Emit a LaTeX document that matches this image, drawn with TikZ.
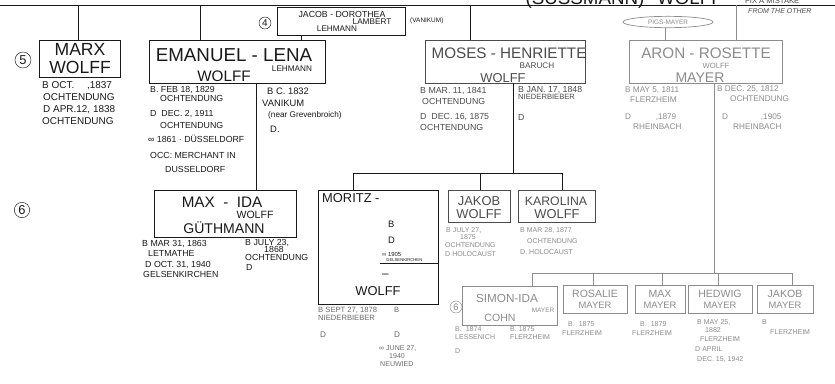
\documentclass[tikz,border=0pt]{standalone}
\usepackage{fontspec}
\setmainfont{Liberation Sans}
\usetikzlibrary{fit,shapes.geometric}
\definecolor{inkA}{gray}{0.1}
\definecolor{inkB}{gray}{0.3}
\definecolor{inkD}{gray}{0.42}
\definecolor{inkC}{gray}{0.55}
\newcounter{tn}
\newcommand\tx[4]{\stepcounter{tn}\node[#1] (t\arabic{tn}) at (#2,#3) {#4};}
\begin{document}
\begin{tikzpicture}[x=0.03cm,y=-0.03cm,
  box/.style={draw=#1, line width=0.7pt, inner sep=0pt},
  box/.default=inkA,
  lnk/.style={line width=0.6pt, draw=#1},
  lnk/.default=inkA,
  fs/.style={font=\fontsize{#1}{#1}\selectfont},
  dt/.style={fs=7.5, inner sep=0pt, anchor=base west, text=#1},
  dt/.default=inkA,
  nm/.style={inner sep=0pt, anchor=base, text=#1},
  nm/.default=inkA,
  num/.style={draw=inkA, circle, inner sep=0pt, minimum size=#1, text=inkA},
]
\useasboundingbox[fill=white] (0,0) rectangle (835,383);

% ---------- header line ----------
\coordinate (tl) at (0,5);
\coordinate (tr) at (835,5);
\draw[lnk] (tl) -- (tr);
\tx{nm,fs=16}{585}{4}{(SUSSMANN)}
\tx{nm,fs=16}{690}{4}{WOLFF}
\tx{dt=inkB,fs=6.5}{745}{3}{FIX A MISTAKE}
\tx{dt=inkB,fs=6,font=\itshape\fontsize{6}{6}\selectfont}{748}{13}{FROM THE OTHER}

% ---------- generation 4/5 boxes ----------
\node[box, fit={(39,40) (120,77)}] (marx) {};
\node[box, fit={(149,40) (325,83)}] (emanuel) {};
\node[box, fit={(277,7) (405,35)}] (jacob) {};
\node[box=inkB, fit={(425,40) (585,83)}] (moses) {};
\node[box=inkC, fit={(629,40) (782,83)}] (aron) {};
\node[draw=inkC, line width=0.6pt, ellipse, minimum width=2.7cm, minimum height=0.34cm, inner sep=0pt, fs=5.5, text=inkC] (pigs) at (668,22) {PIGS-MAYER};

\node[num=0.48cm, fs=11] (n5) at (23,60) {5};
\node[num=0.36cm, fs=8.5] (n4) at (265,23) {4};

% connectors from header
\coordinate (c1) at (78,5);
\coordinate (c2) at (200,5);
\coordinate (c3) at (470,5);
\coordinate (c4) at (736,5);
\draw[lnk] (c1) -- (c1 |- marx.north);
\draw[lnk] (c2) -- (c2 |- emanuel.north);
\draw[lnk] (c3) -- (c3 |- moses.north);
\draw[lnk=inkC] (c4) -- (c4 |- aron.north);
\coordinate (jl) at (301,0);
\draw[lnk] (jl |- jacob.south) -- (jl |- emanuel.north);
\coordinate (pl) at (665,0);
\draw[lnk=inkC] (pl |- pigs.south) -- (pl |- aron.north);

% MARX
\tx{nm,fs=15}{80}{55}{MARX}
\tx{nm,fs=15}{80}{73}{WOLFF}
\tx{dt,fs=8.5}{42}{88}{B OCT.\quad\ ,1837}
\tx{dt,fs=8.5}{43}{100}{OCHTENDUNG}
\tx{dt,fs=8.5}{43}{112}{D APR.12, 1838}
\tx{dt,fs=8.5}{42}{124}{OCHTENDUNG}

% JACOB - DOROTHEA
\tx{nm,fs=7.5}{342}{17}{JACOB - DOROTHEA}
\tx{nm,fs=7}{372}{24.5}{LAMBERT}
\tx{nm,fs=7}{337}{31.5}{LEHMANN}
\tx{dt,fs=5.5}{410}{22}{(VANIKUM)}

% EMANUEL - LENA
\tx{nm,fs=16}{234}{61}{EMANUEL - LENA}
\tx{nm,fs=7}{292}{71}{LEHMANN}
\tx{nm,fs=13}{224}{81}{WOLFF}
\tx{dt}{150}{92}{B. FEB 18, 1829}
\tx{dt}{160}{101}{OCHTENDUNG}
\tx{dt}{150}{116}{D\ \ DEC. 2, 1911}
\tx{dt}{160}{128}{OCHTENDUNG}
\tx{dt}{148}{142}{∞ 1861 · DÜSSELDORF}
\tx{dt}{150}{158}{OCC: MERCHANT IN}
\tx{dt}{165}{172}{DUSSELDORF}
\tx{dt,fs=8}{267}{94}{B C. 1832}
\tx{dt,fs=8}{262}{106}{VANIKUM}
\tx{dt,fs=7}{268}{117}{(near Grevenbroich)}
\tx{dt,fs=8}{270}{132}{D.}

% MOSES - HENRIETTE
\tx{nm=inkB,fs=13}{509}{58}{MOSES - HENRIETTE}
\tx{nm=inkB,fs=7}{537}{68}{BARUCH}
\tx{nm=inkB,fs=11}{503}{82}{WOLFF}
\tx{dt=inkB}{420}{93}{B MAR. 11, 1841}
\tx{dt=inkB}{422}{104}{OCHTENDUNG}
\tx{dt=inkB}{420}{119}{D\ \ DEC. 16, 1875}
\tx{dt=inkB}{420}{130}{OCHTENDUNG}
\tx{dt=inkB}{518}{92}{B JAN. 17, 1848}
\tx{dt=inkB,fs=6.5}{518}{99.5}{NIEDERBIEBER}
\tx{dt=inkB}{518}{120}{D}

% ARON - ROSETTE
\tx{nm=inkC,fs=13}{706}{58}{ARON - ROSETTE}
\tx{nm=inkC,fs=6.5}{716}{68.5}{WOLFF}
\tx{nm=inkC,fs=12}{700}{82}{MAYER}
\tx{dt=inkC,fs=7}{625}{92}{B MAY 5, 1811}
\tx{dt=inkC,fs=7}{630}{102}{FLERZHEIM}
\tx{dt=inkC,fs=7}{625}{119}{D\qquad\quad ,1879}
\tx{dt=inkC,fs=7}{633}{129}{RHEINBACH}
\tx{dt=inkC,fs=7}{717}{91}{B DEC. 25, 1812}
\tx{dt=inkC,fs=7}{730}{101}{OCHTENDUNG}
\tx{dt=inkC,fs=7}{722}{119}{D\qquad\qquad ,1905}
\tx{dt=inkC,fs=7}{733}{129}{RHEINBACH}

% ---------- generation 6 ----------
\node[num=0.46cm, fs=11] (n6) at (22,210) {6};
\node[box, fit={(154,190) (296,237)}] (maxida) {};
\coordinate (el) at (256,0);
\draw[lnk] (el |- emanuel.south) -- (el |- maxida.north);
\tx{nm,fs=13}{222}{207}{MAX\ \ -\ \ IDA}
\tx{nm,fs=9}{255}{218}{WOLFF}
\tx{nm,fs=12}{224}{233}{GÜTHMANN}
\tx{dt}{142}{246}{B MAR 31, 1863}
\tx{dt}{148}{256}{LETMATHE}
\tx{dt}{145}{267}{D OCT. 31, 1940}
\tx{dt}{143}{277}{GELSENKIRCHEN}
\tx{dt}{245}{245}{B JULY 23,}
\tx{dt}{264}{252}{1868}
\tx{dt}{245}{260}{OCHTENDUNG}
\tx{dt}{246}{270}{D}

% Moses' children
\node[box, fit={(318,190) (438,304)}] (moritz) {};
\node[box=inkB, fit={(448,190) (510,222)}] (jakobw) {};
\node[box=inkB, fit={(518,190) (595,222)}] (karolina) {};
\coordinate (mb) at (513,173);
\coordinate (mbL) at (353,173);
\coordinate (mbJ) at (480,173);
\coordinate (mbR) at (562,173);
\draw[lnk] (mb |- moses.south) -- (mb);
\draw[lnk] (mbL) -- (mbR);
\draw[lnk] (mbL) -- (mbL |- moritz.north);
\draw[lnk] (mbJ) -- (mbJ |- jakobw.north);
\draw[lnk] (mbR) -- (mbR |- karolina.north);

\tx{dt,fs=11}{322}{202}{MORITZ -}
\tx{dt,fs=8}{388}{227}{B}
\tx{dt,fs=8}{388}{243}{D}
\tx{dt,fs=5}{382}{256}{∞ 1905}
\tx{dt,fs=3.6}{386}{261}{GELSENKIRCHEN}
\coordinate (mu) at (380,263);
\draw[lnk] (mu) -- (mu -| moritz.east);
\tx{dt,fs=10}{382}{277}{–}
\tx{nm,fs=11}{378}{295}{WOLFF}
\tx{dt=inkD,fs=6.5}{318}{312}{B SEPT 27, 1878}
\tx{dt=inkD,fs=6.5}{394}{312}{B}
\tx{dt=inkD,fs=6.5}{318}{320}{NIEDERBIEBER}
\tx{dt=inkD,fs=7}{320}{337}{D}
\tx{dt=inkD,fs=7}{394}{337}{D}
\tx{dt=inkD,fs=6}{379}{350}{∞ JUNE 27,}
\tx{dt=inkD,fs=6}{389}{358}{1940}
\tx{dt=inkD,fs=6}{380}{366}{NEUWIED}

\tx{nm=inkB,fs=11}{479}{205}{JAKOB}
\tx{nm=inkB,fs=11}{479}{218}{WOLFF}
\tx{dt=inkC,fs=6}{446}{232}{B JULY 27,}
\tx{dt=inkC,fs=6}{460}{239}{1875}
\tx{dt=inkC,fs=6}{445}{247}{OCHTENDUNG}
\tx{dt=inkC,fs=6}{445}{256}{D HOLOCAUST}

\tx{nm=inkB,fs=10.5}{556}{205}{KAROLINA}
\tx{nm=inkB,fs=11}{557}{218}{WOLFF}
\tx{dt=inkC,fs=6}{520}{232}{B MAR 28, 1877}
\tx{dt=inkC,fs=6}{527}{243}{OCHTENDUNG}
\tx{dt=inkC,fs=6}{520}{254}{D. HOLOCAUST}

% Aron's children
\node[box=inkC, fit={(462,286) (557,325)}] (simon) {};
\node[box=inkC, fit={(563,285) (627,313)}] (rosalie) {};
\node[box=inkC, fit={(635,285) (685,313)}] (maxm) {};
\node[box=inkC, fit={(688,285) (752,313)}] (hedwig) {};
\node[box=inkC, fit={(757,285) (813,313)}] (jakobm) {};
\coordinate (ab) at (714,273);
\coordinate (abL) at (532,273);
\coordinate (abR) at (792,273);
\coordinate (ab2) at (593,273);
\coordinate (ab3) at (662,273);
\coordinate (ab4) at (718,273);
\draw[lnk=inkC] (ab |- aron.south) -- (ab);
\draw[lnk=inkC] (abL) -- (abR);
\draw[lnk=inkC] (abL) -- (abL |- simon.north);
\draw[lnk=inkC] (ab2) -- (ab2 |- rosalie.north);
\draw[lnk=inkC] (ab3) -- (ab3 |- maxm.north);
\draw[lnk=inkC] (ab4) -- (ab4 |- hedwig.north);
\draw[lnk=inkC] (abR) -- (abR |- jakobm.north);

\node[draw=inkC, circle, inner sep=0pt, minimum size=0.36cm, fs=8, text=inkC] (n6b) at (456,307) {6};
\tx{nm=inkC,fs=10}{507}{302}{SIMON-IDA}
\tx{nm=inkC,fs=5.5}{543}{312}{MAYER}
\tx{nm=inkC,fs=9}{500}{321}{COHN}
\tx{dt=inkC,fs=6}{455}{331}{B.\ \ 1874}
\tx{dt=inkC,fs=6}{455}{339}{LESSENICH}
\tx{dt=inkC,fs=6}{455}{353}{D}
\tx{dt=inkC,fs=6}{510}{331}{B. 1875}
\tx{dt=inkC,fs=6}{510}{339}{FLERZHEIM}

\tx{nm=inkC,fs=9}{595}{297}{ROSALIE}
\tx{nm=inkC,fs=8}{595}{308}{MAYER}
\tx{dt=inkC,fs=6}{568}{326}{B.\ \ 1875}
\tx{dt=inkC,fs=6}{562}{335}{FLERZHEIM}

\tx{nm=inkC,fs=9}{660}{297}{MAX}
\tx{nm=inkC,fs=8}{660}{308}{MAYER}
\tx{dt=inkC,fs=6}{640}{326}{B.\ \ 1879}
\tx{dt=inkC,fs=6}{632}{335}{FLERZHEIM}

\tx{nm=inkC,fs=9}{720}{297}{HEDWIG}
\tx{nm=inkC,fs=8}{720}{308}{MAYER}
\tx{dt=inkC,fs=6}{697}{324}{B MAY 25,}
\tx{dt=inkC,fs=6}{705}{332}{1882}
\tx{dt=inkC,fs=6}{700}{341}{FLERZHEIM}
\tx{dt=inkC,fs=6}{695}{351}{D APRIL}
\tx{dt=inkC,fs=6}{697}{361}{DEC. 15, 1942}

\tx{nm=inkC,fs=9}{785}{297}{JAKOB}
\tx{nm=inkC,fs=8}{785}{308}{MAYER}
\tx{dt=inkC,fs=6}{762}{324}{B}
\tx{dt=inkC,fs=6}{770}{334}{FLERZHEIM}
\end{tikzpicture}
\end{document}
